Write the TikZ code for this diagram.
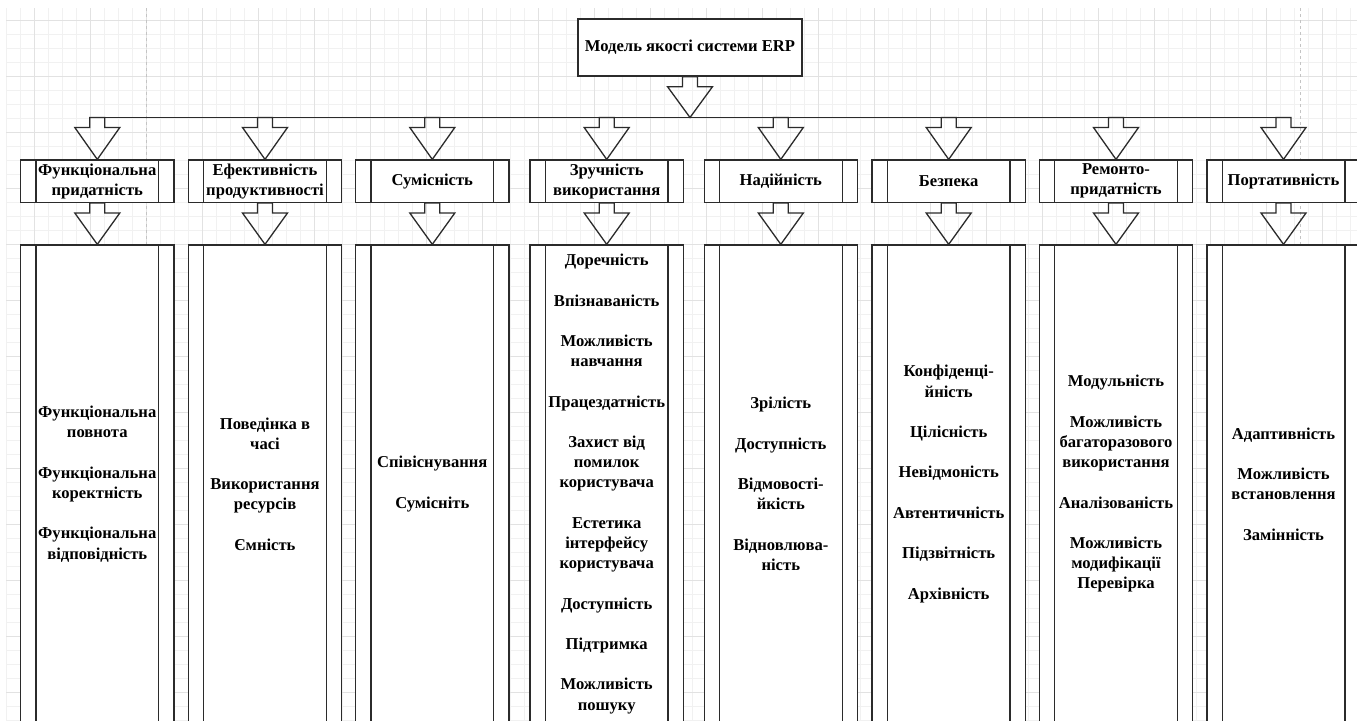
\documentclass[tikz,border=0pt]{standalone}
\usepackage{fontspec}
\setmainfont{Liberation Serif}[BoldFont={Liberation Serif Bold}]
\usetikzlibrary{calc}

\definecolor{linec}{HTML}{2B2B2B}
\definecolor{gridminor}{HTML}{F1F1F1}
\definecolor{gridmajor}{HTML}{E2E2E2}
\definecolor{pagebreak}{HTML}{C4C4C4}

\tikzset{
  labelfont/.style={font=\fontsize{16.6}{20.2}\selectfont\bfseries},
  % rectangle with two inner side bars (process symbol)
  procbox/.style={draw=linec, fill=white, line width=1.3pt, rectangle,
    inner sep=0pt, align=center, labelfont,
    minimum width=153.3pt,
    path picture={
      \draw[linec, line width=1.3pt]
        ([xshift=15.3pt]path picture bounding box.north west) --
        ([xshift=15.3pt]path picture bounding box.south west);
      \draw[linec, line width=1.3pt]
        ([xshift=-15.3pt]path picture bounding box.north east) --
        ([xshift=-15.3pt]path picture bounding box.south east);
    }},
  headbox/.style={procbox, minimum height=42.3pt},
  colbox/.style={procbox, minimum height=478pt},
  titlebox/.style={draw=linec, fill=white, line width=1.3pt, rectangle,
    inner sep=0pt, labelfont, minimum width=224pt, minimum height=57pt},
  blockarr/.style={draw=linec, line width=1.3pt, line join=miter},
  busline/.style={draw=linec, line width=1.3pt},
  gridthin/.style={draw=gridminor, line width=0.9pt},
  gridthick/.style={draw=gridmajor, line width=0.9pt},
  pagebreakline/.style={draw=pagebreak, line width=1pt, dash pattern=on 3pt off 3pt},
}

% hollow block arrow pointing down from #1 to the tip #2
\newcommand\blockarrow[2]{%
  \draw[blockarr] let \p1=(#1), \p2=(#2) in
    (\x2-7.5pt,\y1) -- (\x2-7.5pt,\y1-10pt) -- (\x2-22.5pt,\y1-10pt) --
    (\x2,\y2) -- (\x2+22.5pt,\y1-10pt) -- (\x2+7.5pt,\y1-10pt) --
    (\x2+7.5pt,\y1) -- cycle;}

\begin{document}
\begin{tikzpicture}[x=1pt, y=-1pt]
  \useasboundingbox (0,0) rectangle (1357,720);
  \clip (0,0) rectangle (1357,720);
  \fill[white] (0,0) rectangle (1357,720);

  % background grid
  \foreach \x in {6,20,...,1357} \draw[gridthin] (\x,8) -- (\x,720);
  \foreach \y in {20,34,...,720} \draw[gridthin] (6,\y) -- (1357,\y);
  \foreach \x in {34,90,...,1357} \draw[gridthick] (\x,8) -- (\x,720);
  \foreach \y in {20,76,...,720} \draw[gridthick] (6,\y) -- (1357,\y);

  % page break guides
  \draw[pagebreakline] (146,8) -- (146,720);
  \draw[pagebreakline] (1300,8) -- (1300,720);

  \coordinate (bus) at (0,117.5);

  \node[titlebox] (model) at (690,47.5) {Модель якості системи ERP};

  % characteristics
  \node[headbox] (f1) at (97.3,181.2)  {Функціональна\\придатність};
  \node[headbox] (f2) at (265,181.2)   {Ефективність\\продуктивності};
  \node[headbox] (f3) at (432.3,181.2) {Сумісність};
  \node[headbox] (f4) at (606.7,181.2) {Зручність\\використання};
  \node[headbox] (f5) at (780.8,181.2) {Надійність};
  \node[headbox] (f6) at (948.7,181.2) {Безпека};
  \node[headbox] (f7) at (1116,181.2)  {Ремонто-\\придатність};
  \node[headbox] (f8) at (1283.5,181.2){Портативність};

  % sub-characteristics
  \node[colbox] (c1) at (97.3,484) {Функціональна\\повнота\\[20.2pt]Функціональна\\коректність\\[20.2pt]Функціональна\\відповідність};
  \node[colbox] (c2) at (265,484) {Поведінка в\\часі\\[20.2pt]Використання\\ресурсів\\[20.2pt]Ємність};
  \node[colbox] (c3) at (432.3,484) {Співіснування\\[20.2pt]Сумісніть};
  \node[colbox] (c4) at (606.7,484) {Доречність\\[20.2pt]Впізнаваність\\[20.2pt]Можливість\\навчання\\[20.2pt]Працездатність\\[20.2pt]Захист від\\помилок\\користувача\\[20.2pt]Естетика\\інтерфейсу\\користувача\\[20.2pt]Доступність\\[20.2pt]Підтримка\\[20.2pt]Можливість\\пошуку};
  \node[colbox] (c5) at (780.8,484) {Зрілість\\[20.2pt]Доступність\\[20.2pt]Відмовості-\\йкість\\[20.2pt]Відновлюва-\\ність};
  \node[colbox] (c6) at (948.7,484) {Конфіденці-\\йність\\[20.2pt]Цілісність\\[20.2pt]Невідмоність\\[20.2pt]Автентичність\\[20.2pt]Підзвітність\\[20.2pt]Архівність};
  \node[colbox] (c7) at (1116,484) {Модульність\\[20.2pt]Можливість\\багаторазового\\використання\\[20.2pt]Аналізованість\\[20.2pt]Можливість\\модифікації\\Перевірка};
  \node[colbox] (c8) at (1283.5,484) {Адаптивність\\[20.2pt]Можливість\\встановлення\\[20.2pt]Замінність};

  % distribution bus
  \draw[busline] ($(f1.north |- bus)+(-7.5,0)$) -- ($(f8.north |- bus)+(7.5,0)$);

  \blockarrow{model.south}{model.south |- bus}
  \foreach \i in {1,...,8} {
    \blockarrow{f\i.north |- bus}{f\i.north}
    \blockarrow{f\i.south}{c\i.north}
  }
\end{tikzpicture}
\end{document}
